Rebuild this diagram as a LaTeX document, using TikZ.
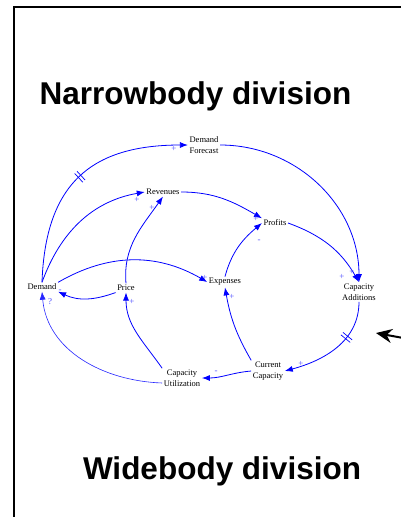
\documentclass[tikz,border=0pt]{standalone}
\usepackage{fontspec}
\setmainfont{Liberation Serif}
\newfontfamily\headfont{Liberation Sans}
\usetikzlibrary{arrows.meta,decorations.markings}

\begin{document}
\begin{tikzpicture}[x=1pt, y=1pt,
			var/.style={align=center, inner sep=1.5pt, font=\fontsize{8.5}{10.5}\selectfont},
			lnk/.style={draw=blue, line width=0.8pt, -{Latex[length=8pt,width=6pt]}},
			sgn/.style={text=blue!70, inner sep=0pt, font=\fontsize{9}{9}\selectfont},
			head/.style={font=\headfont\bfseries\fontsize{31.5}{32}\selectfont, anchor=base},
			delay/.style={postaction={decorate}, decoration={markings, mark=at position #1 with {\draw[blue, line width=0.7pt, -] (-1.6pt,-6pt) -- (-1.6pt,6pt) (1.6pt,-6pt) -- (1.6pt,6pt);}}}]
	\useasboundingbox (0,0) rectangle (400,-517);
	\draw[line width=2.2pt] (430,-7) -- (14,-7) -- (14,-540);
	% division titles
	\node[head] (nb) at (195.5,-104) {Narrowbody division};
	\node[head] (wb) at (222,-479) {Widebody division};
	% variables
	\node[var] (df) at (204,-145) {Demand\\Forecast};
	\node[var] (rev) at (163,-192) {Revenues};
	\node[var] (prof) at (275,-223) {Profits};
	\node[var] (exp) at (225,-282) {Expenses};
	\node[var] (cadd) at (359,-292) {Capacity\\Additions};
	\node[var] (dem) at (42,-287) {Demand};
	\node[var] (price) at (126,-288) {Price};
	\node[var] (cutil) at (182,-378) {Capacity\\Utilization};
	\node[var] (ccap) at (268,-371) {Current\\Capacity};
	% links
	\draw[lnk, delay=0.5] (dem.north) to[out=88, in=180, looseness=1.25] (df.west);
	\draw[lnk] (dem.north) to[out=70, in=190] (rev.west);
	\draw[lnk] (price.north) to[out=95, in=235] (rev.south);
	\draw[lnk] (dem.north east) to[out=30, in=150] (exp.west);
	\draw[lnk] (price.south west) to[out=200, in=-25] (dem.south east);
	\draw[lnk] (cutil.north west) to[out=125, in=-90] (price.south);
	\draw[draw=blue!85, line width=0.6pt, -{Latex[length=8pt,width=6pt]}] ([yshift=-5pt]cutil.west) to[out=178, in=-85] (dem.south);
	\draw[lnk] (ccap.west) to[out=185, in=0] (cutil.east);
	\draw[lnk] (ccap.north west) to[out=120, in=-80] (exp.south);
	\draw[lnk] (exp.north) to[out=75, in=220] (prof.west);
	\draw[lnk] (rev.east) to[out=0, in=150] (prof.north west);
	\draw[lnk] (prof.east) to[out=-20, in=120] (cadd.north);
	\draw[lnk] (df.east) to[out=0, in=90] (cadd.north);
	\draw[lnk, delay=0.35] (cadd.south) to[out=-90, in=15] (ccap.east);
	% polarities
	\node[sgn] (s1) at (174,-149) {+};
	\node[sgn] (s2) at (137,-200) {+};
	\node[sgn] (s3) at (152,-208) {+};
	\node[sgn] (s4) at (256,-219) {+};
	\node[sgn] (s5) at (259,-241) {-};
	\node[sgn] (s6) at (205,-278) {+};
	\node[sgn] (s7) at (232,-297) {+};
	\node[sgn] (s8) at (342,-277) {+};
	\node[sgn] (s9) at (352,-272) {+};
	\node[sgn] (s10) at (60,-291) {-};
	\node[sgn] (s11) at (50,-302) {?};
	\node[sgn] (s12) at (132,-302) {+};
	\node[sgn] (s13) at (216,-372) {-};
	\node[sgn] (s14) at (301,-364) {+};
	% pointer
	\coordinate (tail) at (425,-342);
	\draw[line width=2pt, -{Stealth[length=16pt,width=14pt]}] (tail) -- (376,-333);
\end{tikzpicture}
\end{document}
